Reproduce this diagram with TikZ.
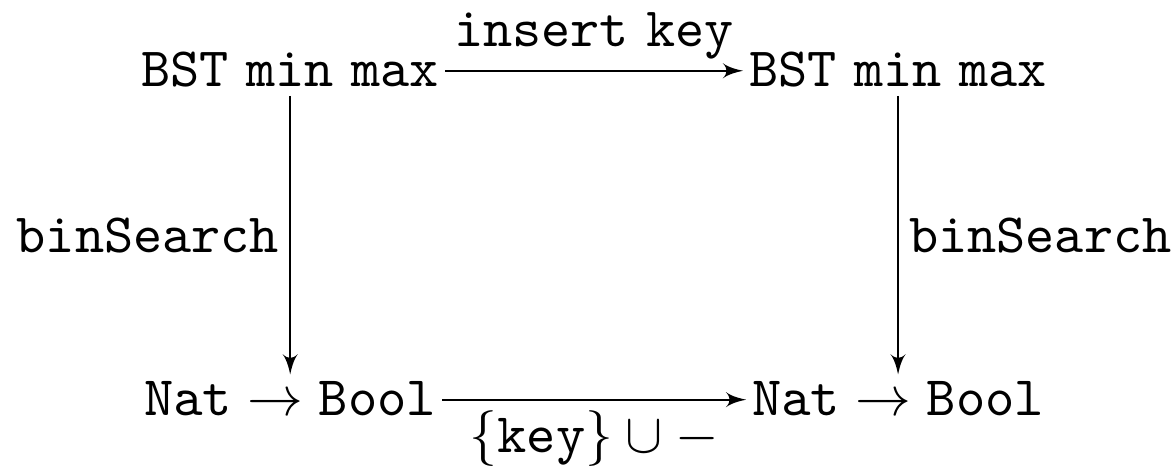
\documentclass[tikz,border=0pt]{standalone}
\usetikzlibrary{arrows,positioning}

\begin{document}
\begin{tikzpicture}[>=latex']
        \tikzset{obj/.style= {inner xsep=1pt, inner ysep=1.2pt, font=\fontsize{10.9}{13}\selectfont\ttfamily, text height=6.6pt, text depth=.5pt},
        lbl/.style= {inner sep=2pt, font=\fontsize{10.9}{13}\selectfont\ttfamily},
        }
        \useasboundingbox (0,0) rectangle (230.4pt,92.1pt);

        \node [obj] (bst) at (57pt,78.2pt) {BST\hspace{.32em}min\hspace{.32em}max};
        \node [obj] (bst_ins) at (176.4pt,78.2pt) {BST\hspace{.32em}min\hspace{.32em}max};
        \node [obj] (pred) at (57pt,13.6pt) {$\mathtt{Nat}\to\mathtt{Bool}$};
        \node [obj] (pred_ins) at (176.4pt,13.6pt) {$\mathtt{Nat}\to\mathtt{Bool}$};

%%% paths
        \path[draw,->] (bst) edge node [lbl, above] {insert\hspace{.32em}key} (bst_ins)
                    (bst) edge node [lbl, left] {binSearch} (pred)
                    (bst_ins) edge node [lbl, right] {binSearch} (pred_ins)
                    (pred) edge node [lbl, below] {$\{\mathtt{key}\}\cup -$} (pred_ins)
                    ;
\end{tikzpicture}
\end{document}
